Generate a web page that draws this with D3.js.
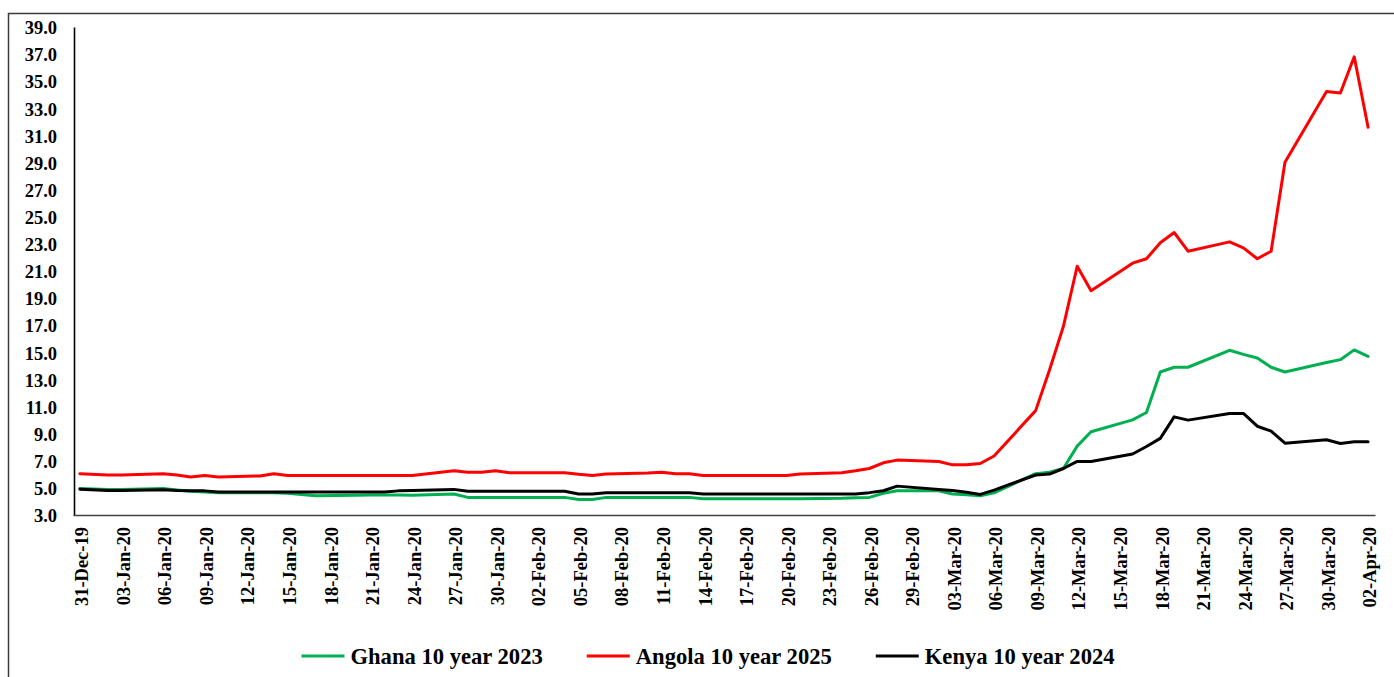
<!DOCTYPE html>
<html>
<head>
<meta charset="utf-8">
<script src="https://cdn.jsdelivr.net/npm/d3@7"></script>
<style>
  body { margin: 0; background: #fff; }
  svg { display: block; }
  svg text { font-family: "Liberation Serif", "Times New Roman", Times, "DejaVu Serif", serif !important; font-weight: bold; fill: #000; }
</style>
</head>
<body>
<div id="chart"></div>
<script>
// ─── Data (business days) ───────────────────────────────────────
const dates = [
  '2019-12-31', '2020-01-02', '2020-01-03', '2020-01-06', '2020-01-07', '2020-01-08', '2020-01-09', '2020-01-10',
  '2020-01-13', '2020-01-14', '2020-01-15', '2020-01-16', '2020-01-17', '2020-01-20', '2020-01-21', '2020-01-22',
  '2020-01-23', '2020-01-24', '2020-01-27', '2020-01-28', '2020-01-29', '2020-01-30', '2020-01-31', '2020-02-03',
  '2020-02-04', '2020-02-05', '2020-02-06', '2020-02-07', '2020-02-10', '2020-02-11', '2020-02-12', '2020-02-13',
  '2020-02-14', '2020-02-17', '2020-02-18', '2020-02-19', '2020-02-20', '2020-02-21', '2020-02-24', '2020-02-25',
  '2020-02-26', '2020-02-27', '2020-02-28', '2020-03-02', '2020-03-03', '2020-03-04', '2020-03-05', '2020-03-06',
  '2020-03-09', '2020-03-10', '2020-03-11', '2020-03-12', '2020-03-13', '2020-03-16', '2020-03-17', '2020-03-18',
  '2020-03-19', '2020-03-20', '2020-03-23', '2020-03-24', '2020-03-25', '2020-03-26', '2020-03-27', '2020-03-30',
  '2020-03-31', '2020-04-01', '2020-04-02'
];

const ghana = [
  4.96, 4.88, 4.88, 4.96, 4.85, 4.75, 4.70, 4.65,
  4.65, 4.65, 4.60, 4.52, 4.42, 4.45, 4.47, 4.48,
  4.48, 4.45, 4.55, 4.30, 4.30, 4.30, 4.30, 4.30,
  4.30, 4.15, 4.15, 4.30, 4.30, 4.30, 4.30, 4.30,
  4.20, 4.20, 4.20, 4.20, 4.20, 4.20, 4.23, 4.27,
  4.30, 4.60, 4.79, 4.79, 4.55, 4.50, 4.42, 4.64,
  6.05, 6.15, 6.43, 8.08, 9.14, 10.02, 10.56, 13.55,
  13.90, 13.90, 15.15, 14.85, 14.58, 13.90, 13.55, 14.25,
  14.46, 15.18, 14.70
];

const angola = [
  6.05, 5.95, 5.95, 6.05, 5.95, 5.80, 5.92, 5.80,
  5.88, 6.05, 5.92, 5.92, 5.92, 5.92, 5.92, 5.92,
  5.92, 5.92, 6.26, 6.15, 6.15, 6.26, 6.12, 6.12,
  6.12, 6.00, 5.92, 6.02, 6.10, 6.16, 6.05, 6.05,
  5.92, 5.92, 5.92, 5.92, 5.92, 6.02, 6.12, 6.26,
  6.43, 6.85, 7.05, 6.95, 6.70, 6.70, 6.80, 7.35,
  10.70, 13.70, 16.90, 21.35, 19.55, 21.58, 21.90, 23.08,
  23.84, 22.46, 23.15, 22.71, 21.90, 22.46, 29.02, 34.25,
  34.13, 36.80, 31.60
];

const kenya = [
  4.90, 4.80, 4.80, 4.87, 4.80, 4.78, 4.78, 4.70,
  4.70, 4.70, 4.70, 4.70, 4.70, 4.70, 4.70, 4.70,
  4.78, 4.80, 4.89, 4.75, 4.75, 4.75, 4.75, 4.75,
  4.75, 4.55, 4.55, 4.65, 4.65, 4.65, 4.65, 4.65,
  4.55, 4.55, 4.55, 4.55, 4.55, 4.55, 4.55, 4.55,
  4.65, 4.79, 5.13, 4.89, 4.80, 4.68, 4.52, 4.84,
  5.95, 6.02, 6.43, 6.95, 6.95, 7.50, 8.05, 8.65,
  10.24, 10.00, 10.49, 10.49, 9.55, 9.19, 8.30, 8.55,
  8.28, 8.40, 8.40
];

const seriesNames = ['Ghana 10 year 2023', 'Angola 10 year 2025', 'Kenya 10 year 2024'];
const seriesColors = ['#00B050', '#FF0000', '#000000'];
const yTicks = [3, 5, 7, 9, 11, 13, 15, 17, 19, 21, 23, 25, 27, 29, 31, 33, 35, 37, 39];

// ─── Layout ─────────────────────────────────────────────────────
const W = 1394, H = 677;
const plot = { left: 73, right: 1375, top: 27, bottom: 515 };
const fontFamily = '"Liberation Serif", "Times New Roman", Times, "DejaVu Serif", serif';
const axisFont = '18.5px';
const legendFont = '22.6px';

const parse = d3.utcParse('%Y-%m-%d');
const dayDates = dates.map(parse);
const firstDay = dayDates[0];
const lastDay = dayDates[dayDates.length - 1];

const x = d3.scaleUtc()
  .domain([d3.utcHour.offset(firstDay, -12), d3.utcHour.offset(lastDay, 12)])
  .range([plot.left, plot.right]);

const y = d3.scaleLinear()
  .domain([yTicks[0], yTicks[yTicks.length - 1]])
  .range([plot.bottom, plot.top]);

const svg = d3.select('#chart').append('svg')
  .attr('width', W).attr('height', H)
  .attr('font-family', fontFamily);

// outer chart border (right/bottom edges fall outside the picture)
svg.append('rect')
  .attr('x', 8.5).attr('y', 13.5)
  .attr('width', W + 20).attr('height', H + 20)
  .attr('fill', 'none').attr('stroke', '#3a3a3a').attr('stroke-width', 1.5);

// ─── Axes ───────────────────────────────────────────────────────
const yAxis = svg.append('g')
  .attr('transform', `translate(${plot.left + 1},0)`)
  .call(d3.axisLeft(y).tickValues(yTicks).tickFormat(d3.format('.1f')).tickSize(0).tickPadding(17))
  .attr('font-family', fontFamily);
yAxis.select('.domain').attr('stroke', '#000').attr('stroke-width', 1.6);
yAxis.selectAll('text').style('font-size', axisFont).attr('dy', '0.36em');

const xTicks = d3.utcDay.range(firstDay, d3.utcDay.offset(lastDay, 1), 3);
const xAxis = svg.append('g')
  .attr('transform', `translate(0,${plot.bottom})`)
  .call(d3.axisBottom(x).tickValues(xTicks).tickFormat(d3.utcFormat('%d-%b-%y')).tickSize(0).tickSizeOuter(0))
  .attr('font-family', fontFamily);
xAxis.select('.domain').attr('stroke', '#404040').attr('stroke-width', 1.3);
xAxis.selectAll('text')
  .style('font-size', axisFont)
  .style('text-anchor', 'end')
  .attr('transform', 'rotate(-90)')
  .attr('x', -12).attr('y', 0).attr('dy', '0.42em');

// ─── Lines ──────────────────────────────────────────────────────
const seriesValues = [ghana, angola, kenya];
const line = d3.line()
  .x(d => x(d.date))
  .y(d => y(d.value));

seriesValues.forEach((vals, i) => {
  const pts = vals.map((v, j) => ({ date: dayDates[j], value: v }));
  svg.append('path')
    .datum(pts)
    .attr('fill', 'none')
    .attr('stroke', seriesColors[i])
    .attr('stroke-width', 3)
    .attr('stroke-linejoin', 'round')
    .attr('stroke-linecap', 'round')
    .attr('d', line);
});

// ─── Legend ─────────────────────────────────────────────────────
const legendY = 656;
const swatchLen = 43, swatchGap = 6, itemGap = 44;
const legend = svg.append('g');
const items = seriesNames.map((name, i) => {
  const g = legend.append('g');
  g.append('line')
    .attr('x1', 0).attr('x2', swatchLen)
    .attr('y1', 0).attr('y2', 0)
    .attr('stroke', seriesColors[i]).attr('stroke-width', 3);
  const t = g.append('text')
    .attr('x', swatchLen + swatchGap).attr('y', 0).attr('dy', '0.35em')
    .style('font-size', legendFont)
    .text(name);
  return { g, width: swatchLen + swatchGap + t.node().getComputedTextLength() };
});
const totalW = d3.sum(items, d => d.width) + itemGap * (items.length - 1);
let cx = 708 - totalW / 2;
items.forEach(it => {
  it.g.attr('transform', `translate(${cx},${legendY})`);
  cx += it.width + itemGap;
});
</script>
</body>
</html>
